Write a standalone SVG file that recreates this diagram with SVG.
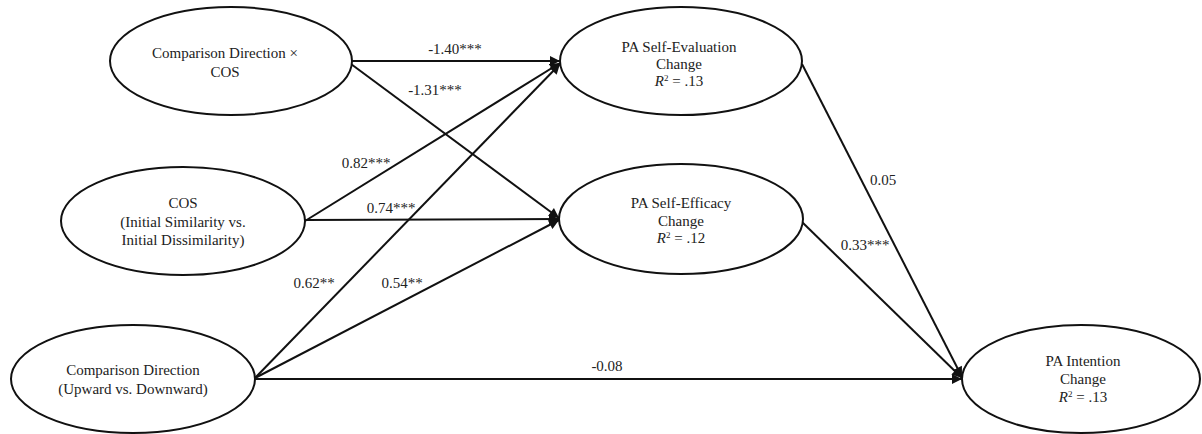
<svg xmlns="http://www.w3.org/2000/svg" width="1202" height="434" viewBox="0 0 1202 434" font-family="'Liberation Serif', Tinos, 'Times New Roman', 'DejaVu Serif', serif">
<style>
.node ellipse{fill:#fff;stroke:#111;stroke-width:2}
text{font-family:'Liberation Serif', Tinos, 'Times New Roman', 'DejaVu Serif', serif;font-size:15px;fill:#222;text-anchor:middle}
.edge line{stroke:#111;stroke-width:2;marker-end:url(#arr)}
</style>
<defs>
<marker id="arr" markerUnits="userSpaceOnUse" viewBox="0 0 10 10" refX="10" refY="5" markerWidth="11" markerHeight="10" orient="auto">
<path d="M0,0 L10,5 L0,10 z" fill="#111"/>
</marker>
</defs>
<rect width="1202" height="434" fill="#fff"/>
<g id="connectors" class="edge">
<line x1="352" y1="61" x2="560" y2="61"/>
<line x1="351" y1="64" x2="559" y2="218"/>
<line x1="305" y1="221" x2="560" y2="63"/>
<line x1="305" y1="220" x2="559" y2="219"/>
<line x1="255" y1="378" x2="560" y2="64"/>
<line x1="255" y1="378" x2="559" y2="220"/>
<line x1="255" y1="379" x2="962" y2="379"/>
<line x1="802" y1="64" x2="962" y2="377"/>
<line x1="802" y1="222" x2="962" y2="378"/>
</g>
<g id="labels">
<text x="455" y="54">-1.40***</text>
<text x="435" y="95">-1.31***</text>
<text x="366" y="168">0.82***</text>
<text x="391" y="213">0.74***</text>
<text x="314" y="288">0.62**</text>
<text x="402" y="288">0.54**</text>
<text x="607" y="371">-0.08</text>
<text x="883" y="185">0.05</text>
<text x="865" y="250">0.33***</text>
</g>
<g id="n-interaction" class="node">
<ellipse cx="231" cy="61" rx="121" ry="54"/>
<text x="225" y="58">Comparison Direction ×</text>
<text x="225" y="77">COS</text>
</g>
<g id="n-cos" class="node">
<ellipse cx="183" cy="221" rx="122" ry="54"/>
<text x="183" y="208">COS</text>
<text x="183" y="227">(Initial Similarity vs.</text>
<text x="183" y="245">Initial Dissimilarity)</text>
</g>
<g id="n-direction" class="node">
<ellipse cx="133" cy="379" rx="122" ry="54"/>
<text x="133" y="375">Comparison Direction</text>
<text x="133" y="394">(Upward vs. Downward)</text>
</g>
<g id="n-selfeval" class="node">
<ellipse cx="681" cy="61" rx="121" ry="54"/>
<text x="679" y="52">PA Self-Evaluation</text>
<text x="679" y="69">Change</text>
<text x="679" y="86"><tspan font-style="italic">R</tspan><tspan font-size="9" dy="-5">2</tspan><tspan dy="5"> = .13</tspan></text>
</g>
<g id="n-selfeff" class="node">
<ellipse cx="681" cy="219" rx="122" ry="55"/>
<text x="681" y="208">PA Self-Efficacy</text>
<text x="681" y="226">Change</text>
<text x="681" y="243"><tspan font-style="italic">R</tspan><tspan font-size="9" dy="-5">2</tspan><tspan dy="5"> = .12</tspan></text>
</g>
<g id="n-intention" class="node">
<ellipse cx="1081" cy="379" rx="119" ry="54"/>
<text x="1083" y="366">PA Intention</text>
<text x="1083" y="384">Change</text>
<text x="1083" y="402"><tspan font-style="italic">R</tspan><tspan font-size="9" dy="-5">2</tspan><tspan dy="5"> = .13</tspan></text>
</g>
</svg>
